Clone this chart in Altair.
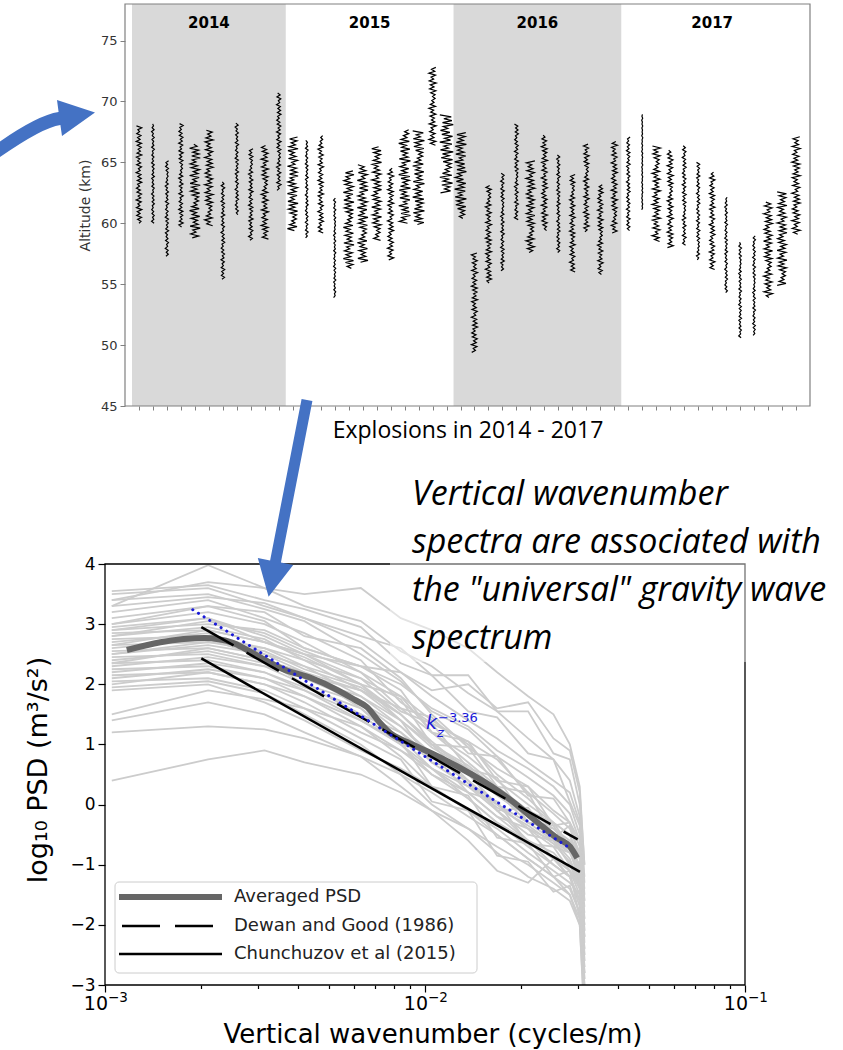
import altair as alt
import numpy as np
import pandas as pd

# ---------------------------------------------------------------------------
# Upper panel: wavy altitude profiles, one per explosion (2014-2017)
# ---------------------------------------------------------------------------
year_names = ["2014", "2015", "2016", "2017"]
year_first = [-0.5, 10.5, 22.5, 34.5]
year_last = [10.5, 22.5, 34.5, 47.5]
year_shaded = [True, False, True, False]

# lowest / highest altitude (km) of every profile
prof_bottom = [
    60.0, 60.0, 57.3, 59.7, 58.8, 59.8, 55.4, 60.7, 58.6, 58.7, 62.7,        # 2014
    59.4, 58.8, 59.2, 53.9, 56.3, 56.8, 58.6, 57.0, 60.0, 59.9, 66.4, 62.5,  # 2015
    60.4, 49.4, 55.1, 56.1, 60.3, 57.6, 59.4, 57.6, 56.0, 59.3, 55.8, 59.2,  # 2016
    59.4, 61.1, 58.5, 58.0, 58.2, 57.0, 56.2, 54.3, 50.6, 50.8, 53.9, 54.9, 59.1,  # 2017
]
prof_top = [
    68.1, 68.2, 65.2, 68.3, 66.6, 67.7, 63.4, 68.3, 66.2, 66.5, 70.8,
    67.1, 66.8, 67.3, 62.1, 64.3, 64.8, 66.4, 64.6, 67.8, 67.7, 72.9, 68.9,
    67.5, 57.6, 63.1, 64.1, 68.2, 65.2, 67.3, 65.7, 64.0, 66.5, 63.3, 66.8,
    67.2, 69.0, 66.4, 66.0, 66.4, 65.1, 64.2, 62.2, 58.5, 59.0, 61.8, 62.7, 67.2,
]
# horizontal swing of each profile (in explosion-index units)
prof_amp = [
    0.20, 0.10, 0.12, 0.16, 0.38, 0.30, 0.13, 0.12, 0.16, 0.26, 0.16,
    0.38, 0.10, 0.20, 0.08, 0.38, 0.38, 0.35, 0.22, 0.42, 0.42, 0.26, 0.48,
    0.42, 0.22, 0.22, 0.13, 0.14, 0.32, 0.22, 0.12, 0.20, 0.20, 0.20, 0.22,
    0.13, 0.04, 0.30, 0.22, 0.14, 0.12, 0.20, 0.10, 0.10, 0.10, 0.32, 0.35, 0.30,
]
# perturbation shape shared by the profiles (normalised)
wiggle = [
    0.0, 0.7, -0.5, 0.9, -0.8, 0.4, -0.6, 1.0, -0.9, 0.3, -0.4, 0.8, -1.0, 0.6,
    -0.3, 0.9, -0.7, 0.5, -0.9, 0.2, -0.5, 1.0, -0.6, 0.8, -0.4, 0.7, -1.0, 0.4,
    -0.2, 0.9, -0.8, 0.6, -0.5, 0.3, -0.9, 1.0, -0.7, 0.5, -0.3, 0.8, -0.6, 0.9,
    -1.0, 0.4, -0.5, 0.7, -0.8, 0.2, -0.4, 1.0, -0.9, 0.6, -0.3, 0.5, -0.7, 0.9,
    -0.5, 0.3, -1.0, 0.8, -0.6, 0.4, -0.2, 0.7,
]
alt_step = 0.16  # km between samples of a profile

# ---------------------------------------------------------------------------
# Lower panel: vertical wavenumber spectra
# ---------------------------------------------------------------------------
spec_k = [1.05e-3, 2.1e-3, 3.15e-3, 4.2e-3, 6.3e-3, 8.4e-3, 1.05e-2,
          1.365e-2, 1.68e-2, 2.1e-2, 2.52e-2, 2.835e-2, 3.045e-2, 3.15e-2]
spectra = [
    [3.55, 3.65, 3.40, 3.25, 2.95, 2.35, 2.15, 1.55, 1.45, 0.85, 0.75, 0.05, -0.35, -1.5],
    [3.30, 3.98, 3.60, 3.30, 3.05, 2.55, 2.30, 1.85, 1.55, 1.10, 0.75, 0.40, -0.20, -1.2],
    [3.40, 3.50, 3.25, 3.05, 2.50, 2.05, 1.55, 1.25, 0.80, 0.45, 0.15, -0.15, -0.60, -1.9],
    [3.20, 3.40, 3.10, 2.85, 2.40, 1.70, 1.35, 1.05, 0.75, 0.20, -0.15, -0.40, -0.80, -2.2],
    [3.10, 3.30, 3.20, 2.80, 2.60, 2.10, 1.50, 0.95, 0.60, 0.30, -0.10, -0.30, -0.90, -2.6],
    [3.00, 3.20, 3.00, 2.70, 2.20, 1.80, 1.40, 1.00, 0.50, 0.10, -0.30, -0.50, -1.10, -2.0],
    [2.95, 3.10, 2.80, 2.50, 2.10, 1.75, 1.00, 0.95, 0.30, 0.20, -0.55, -0.35, -0.90, -1.7],
    [2.90, 3.00, 2.90, 2.60, 2.30, 1.90, 1.20, 0.70, 0.30, -0.10, -0.30, -0.70, -1.20, -2.4],
    [2.85, 2.90, 2.70, 2.50, 2.00, 1.50, 1.00, 0.60, 0.20, -0.20, -0.60, -0.80, -1.00, -2.9],
    [2.80, 2.95, 2.75, 2.40, 1.90, 1.40, 0.70, 0.55, -0.10, -0.05, -0.60, -0.75, -1.30, -3.2],
    [2.75, 2.80, 2.60, 2.30, 1.80, 1.30, 0.80, 0.50, 0.00, -0.40, -0.70, -0.80, -1.10, -1.8],
    [2.70, 2.85, 2.50, 2.20, 1.90, 1.50, 1.00, 0.40, -0.10, -0.50, -0.60, -1.00, -1.40, -2.7],
    [2.65, 2.70, 2.60, 2.40, 2.10, 1.55, 1.35, 0.60, 0.45, -0.30, -0.35, -0.75, -0.80, -1.6],
    [2.60, 2.75, 2.45, 2.10, 1.70, 1.20, 0.70, 0.30, -0.10, -0.60, -0.80, -1.10, -1.50, -3.4],
    [2.55, 2.60, 2.40, 2.20, 1.60, 1.10, 0.60, 0.20, -0.20, -0.40, -0.90, -1.20, -1.60, -2.5],
    [2.50, 2.65, 2.50, 2.30, 2.00, 1.80, 1.20, 1.05, 0.40, 0.30, -0.35, -0.30, -0.70, -1.4],
    [2.45, 2.50, 2.30, 2.00, 1.50, 1.00, 0.50, 0.10, -0.30, -0.70, -1.00, -1.20, -1.70, -3.0],
    [2.40, 2.55, 2.35, 2.10, 1.80, 1.40, 0.95, 0.60, 0.20, -0.30, -0.40, -0.70, -1.00, -2.1],
    [2.35, 2.40, 2.20, 1.90, 1.40, 1.05, 0.30, 0.15, -0.55, -0.65, -1.20, -1.10, -1.90, -2.8],
    [2.30, 2.45, 2.30, 2.15, 1.90, 1.60, 1.20, 0.80, 0.40, 0.00, -0.30, -0.50, -0.90, -2.3],
    [2.25, 2.30, 2.10, 1.80, 1.30, 0.80, 0.30, -0.10, -0.50, -0.90, -1.20, -1.50, -2.00, -3.5],
    [2.20, 2.35, 2.20, 1.95, 1.60, 1.00, 0.85, 0.20, 0.05, -0.65, -0.70, -1.10, -1.40, -2.6],
    [2.15, 2.20, 2.00, 1.70, 1.20, 0.90, 0.50, 0.20, -0.20, -0.60, -0.90, -1.10, -1.30, -2.0],
    [2.10, 2.25, 2.10, 1.90, 1.50, 1.20, 0.80, 0.40, 0.00, -0.40, -0.60, -0.80, -1.20, -1.9],
    [2.05, 2.10, 1.90, 1.60, 1.10, 0.75, 0.05, -0.10, -0.85, -0.95, -1.45, -1.35, -1.80, -2.9],
    [2.00, 2.20, 2.00, 1.80, 1.40, 1.00, 0.60, 0.10, -0.30, -0.60, -1.00, -1.20, -1.60, -3.3],
    [1.95, 2.05, 1.85, 1.50, 1.00, 0.50, 0.00, -0.40, -0.80, -1.20, -1.40, -1.60, -2.00, -3.6],
    [1.90, 2.00, 1.70, 1.40, 0.90, 0.60, 0.30, -0.10, -0.40, -0.80, -1.10, -1.30, -1.50, -2.4],
    [1.50, 1.90, 1.75, 1.60, 1.30, 0.90, 0.60, 0.30, 0.00, -0.30, -0.60, -0.90, -1.30, -2.2],
    [1.40, 1.70, 1.50, 1.20, 0.80, 0.30, -0.10, -0.60, -1.10, -1.30, -0.90, -1.20, -1.60, -2.8],
    [1.20, 1.30, 1.25, 1.10, 0.80, 0.50, 0.20, -0.20, -0.50, -0.90, -1.20, -1.40, -1.80, -2.7],
    [0.40, 0.75, 0.90, 0.70, 0.50, 0.20, -0.10, -0.40, -0.70, -1.00, -1.30, -1.50, -1.90, -3.0],
    [3.40, 3.70, 3.60, 3.50, 3.60, 3.10, 2.90, 2.60, 2.20, 1.80, 1.50, 1.00, 0.30, -1.0],
    [3.50, 3.60, 3.30, 3.10, 2.80, 2.60, 2.15, 2.15, 1.55, 1.55, 0.85, 0.75, 0.00, -1.3],
    [3.30, 3.45, 3.35, 3.10, 2.70, 2.20, 1.80, 1.40, 1.10, 0.70, 0.40, 0.20, -0.30, -1.6],
    [3.00, 3.30, 3.05, 2.60, 2.30, 2.00, 1.60, 1.30, 0.90, 0.60, 0.30, 0.00, -0.50, -2.1],
    [2.80, 3.05, 2.85, 2.55, 2.20, 1.60, 1.45, 0.85, 0.80, 0.15, 0.10, -0.30, -0.60, -2.5],
    [2.65, 2.90, 2.70, 2.45, 2.00, 1.40, 1.00, 0.65, 0.25, -0.10, -0.40, -0.60, -1.10, -2.8],
    [2.50, 2.70, 2.55, 2.25, 1.95, 1.50, 1.05, 0.55, 0.15, -0.20, -0.55, -0.75, -1.20, -3.4],
    [2.35, 2.60, 2.40, 2.00, 1.70, 1.30, 0.85, 0.35, -0.05, -0.35, -0.65, -0.95, -1.35, -2.2],
    [2.90, 3.10, 2.70, 2.50, 2.30, 2.20, 1.90, 2.00, 1.60, 1.70, 1.10, 0.90, 0.20, -1.0],
]

avg_k = [1.17e-3, 1.49e-3, 2.05e-3, 2.51e-3, 2.78e-3, 3.65e-3, 4.43e-3, 5.35e-3,
         6.04e-3, 6.59e-3, 7.23e-3, 7.78e-3, 8.79e-3, 1.11e-2, 1.38e-2, 1.68e-2,
         1.94e-2, 2.24e-2, 2.59e-2, 2.84e-2, 2.99e-2]
avg_psd = [2.57, 2.70, 2.77, 2.69, 2.57, 2.24, 2.10, 1.90, 1.74, 1.62, 1.36, 1.19,
           1.04, 0.79, 0.52, 0.24, -0.01, -0.29, -0.56, -0.70, -0.89]

dewan_k, dewan_psd = [2.0e-3, 3.0e-2], [2.95, -0.58]
chun_k, chun_psd = [2.0e-3, 3.05e-2], [2.43, -1.12]
fit_k, fit_psd = [1.88e-3, 2.85e-2], [3.24, -0.73]   # slope -3.36
fit_label = "−3.36"

decade_k = [1e-3, 1e-2, 1e-1]
decade_exp = ["−3", "−2", "−1"]

legend_labels = ["Averaged PSD", "Dewan and Good (1986)", "Chunchuzov et al (2015)"]
note_lines = ["Vertical wavenumber", "spectra are associated with",
              "the \"universal\" gravity wave", "spectrum"]

# ---------------------------------------------------------------------------
# Layout (pixels)
# ---------------------------------------------------------------------------
TOP_W, TOP_H, TOP_X0 = 705, 402, 20
BOT_W, BOT_H = 640, 421
GAP = 158
BOT_LEFT, BOT_TOP = 105, 564      # page position of the lower plot area
ARROW_BLUE = "#4472c4"
FIT_BLUE = "#1a1ad8"
one = pd.DataFrame({"o": [0]})

# arrow outlines in page pixels (drawn as custom symbols at unit scale)
CURVED_ARROW = ("M0,141.5 Q38.3,115.1 58.6,112.1 L57,100 L95,112.5 L62,136 "
                "L60.4,124.9 Q42.7,127.3 0,157 Z")
DOWN_ARROW = ("M301.6,398.95 L312.4,401.05 L280.9,562.55 L293.2,564.95 "
              "L268.6,596.8 L257.8,558.05 L270.1,560.45 Z")

# ---------------------------------------------------------------------------
# Upper panel
# ---------------------------------------------------------------------------
rows = []
for i, (lo, hi, amp) in enumerate(zip(prof_bottom, prof_top, prof_amp)):
    for j, h in enumerate(np.arange(lo, hi + 1e-9, alt_step)):
        rows.append({"explosion": i, "j": j, "alt": h,
                     "x": i + amp * wiggle[(j + 11 * i) % len(wiggle)]})
prof_df = pd.DataFrame(rows)

years_df = pd.DataFrame({"year": year_names, "x0": year_first, "x1": year_last,
                         "shaded": year_shaded})
years_df["mid"] = (years_df["x0"] + years_df["x1"]) / 2

x_top = alt.Scale(domain=[-1, 48], range=[TOP_X0, TOP_W], nice=False, zero=False)
y_top = alt.Scale(domain=[45, 78], nice=False, zero=False)
top_x_axis = alt.Axis(values=list(range(48)), labels=False, tickSize=4,
                      tickColor="#808080", domain=False, grid=False,
                      title="Explosions in 2014 - 2017", titleFont="Open Sans",
                      titleFontSize=23, titleFontWeight="normal",
                      titleColor="black", titlePadding=9)
top_y_axis = alt.Axis(values=[45, 50, 55, 60, 65, 70, 75], offset=-TOP_X0,
                      tickSize=5, tickColor="#808080", domain=False, grid=False,
                      labelFont="DejaVu Sans", labelFontSize=13,
                      labelColor="#333333", labelPadding=3,
                      title="Altitude (km)", titleFont="DejaVu Sans",
                      titleFontSize=14, titleFontWeight="normal",
                      titleColor="#333333", titlePadding=8)

bands = alt.Chart(years_df).transform_filter("datum.shaded").mark_rect(
    color="#d9d9d9").encode(
    x=alt.X("x0:Q", scale=x_top, axis=top_x_axis), x2="x1:Q",
    y=alt.value(0), y2=alt.value(TOP_H))

profiles = alt.Chart(prof_df).mark_line(color="black", strokeWidth=1.2).encode(
    x=alt.X("x:Q", scale=x_top, axis=top_x_axis),
    y=alt.Y("alt:Q", scale=y_top, axis=top_y_axis),
    detail="explosion:N", order="j:Q")

year_text = alt.Chart(years_df).mark_text(
    font="DejaVu Sans", fontSize=15, fontWeight="bold", color="black",
    baseline="middle").encode(
    x=alt.X("mid:Q", scale=x_top, axis=top_x_axis), y=alt.value(18.5), text="year:N")

top_frame = alt.Chart(one).mark_rect(fillOpacity=0, stroke="#808080",
                                     strokeWidth=1.2).encode(
    x=alt.value(TOP_X0), x2=alt.value(TOP_W), y=alt.value(0), y2=alt.value(TOP_H))

# invisible page-sized box that fixes the drawing origin
page = alt.Chart(one).mark_rect(opacity=0).encode(
    x=alt.value(-BOT_LEFT), x2=alt.value(843 - BOT_LEFT),
    y=alt.value(-4), y2=alt.value(1050 - 4))

top = alt.layer(page, bands, profiles, year_text, top_frame).properties(
    width=TOP_W, height=TOP_H)

# ---------------------------------------------------------------------------
# Lower panel
# ---------------------------------------------------------------------------
spec_df = pd.DataFrame([{"line": n, "k": k, "psd": v}
                        for n, row in enumerate(spectra)
                        for k, v in zip(spec_k, row)])
avg_df = pd.DataFrame({"k": avg_k, "psd": avg_psd})
dewan_df = pd.DataFrame({"k": dewan_k, "psd": dewan_psd})
chun_df = pd.DataFrame({"k": chun_k, "psd": chun_psd})
fit_df = pd.DataFrame({"k": fit_k, "psd": fit_psd})
decade_df = pd.DataFrame({"k": decade_k, "exp": decade_exp})

x_bot = alt.Scale(type="log", domain=[1e-3, 1e-1], nice=False)
y_bot = alt.Scale(domain=[-3, 4], nice=False, zero=False)

x_ticks = [m * 10.0 ** e for e in (-3, -2) for m in range(1, 10)] + [0.1]
decades = "datum.value == 0.001 || datum.value == 0.01 || datum.value == 0.1"
x_axis = alt.Axis(
    values=x_ticks, labels=False, title=None,
    tickSize={"condition": {"test": decades, "value": 7}, "value": 3.5},
    tickColor="black", tickWidth=1.2, domain=False, grid=False)
y_axis = alt.Axis(
    values=list(range(-3, 5)), tickSize=7, tickColor="black", tickWidth=1.2,
    domain=False, grid=False, labelFont="DejaVu Sans", labelFontSize=17,
    labelColor="black", labelPadding=3, title=None)

enc = dict(x=alt.X("k:Q", scale=x_bot, axis=x_axis),
           y=alt.Y("psd:Q", scale=y_bot, axis=y_axis))

gray = alt.Chart(spec_df).mark_line(color="#cccccc", strokeWidth=1.8, clip=True).encode(
    detail="line:N", **enc)
avg = alt.Chart(avg_df).mark_line(color="#666666", strokeWidth=6, strokeCap="butt",
                                  interpolate="monotone").encode(**enc)
dewan = alt.Chart(dewan_df).mark_line(color="black", strokeWidth=2.5,
                                      strokeDash=[37, 15]).encode(**enc)
chun = alt.Chart(chun_df).mark_line(color="black", strokeWidth=2.5).encode(**enc)
fit = alt.Chart(fit_df).mark_line(color=FIT_BLUE, strokeWidth=3, strokeCap="round",
                                  strokeDash=[0.1, 6.6]).encode(**enc)

# decade labels 10^n on the wavenumber axis
kx = alt.X("k:Q", scale=x_bot, axis=x_axis)
dec_base = alt.Chart(decade_df).mark_text(
    text="10", font="DejaVu Sans", fontSize=19, color="black", align="right",
    baseline="alphabetic", dx=3).encode(x=kx, y=alt.value(BOT_H + 25))
dec_exp = alt.Chart(decade_df).mark_text(
    font="DejaVu Sans", fontSize=13.5, color="black", align="left",
    baseline="alphabetic", dx=3).encode(x=kx, y=alt.value(BOT_H + 17), text="exp:N")

x_title = alt.Chart(one).mark_text(
    text="Vertical wavenumber (cycles/m)", font="DejaVu Sans", fontSize=26,
    color="black", align="center", baseline="middle").encode(
    x=alt.value(BOT_W / 2 + 8), y=alt.value(1035 - BOT_TOP))
y_title = alt.Chart(one).mark_text(
    text="log₁₀ PSD (m³/s²)", font="DejaVu Sans", fontSize=27, angle=270,
    color="black", align="center", baseline="middle").encode(
    x=alt.value(39 - BOT_LEFT), y=alt.value(770 - BOT_TOP))

fit_k_txt = alt.Chart(one).mark_text(
    text="k", font="DejaVu Sans", fontStyle="italic", fontSize=19, color=FIT_BLUE,
    align="left", baseline="alphabetic").encode(x=alt.value(321), y=alt.value(165))
fit_z_txt = alt.Chart(one).mark_text(
    text="z", font="DejaVu Sans", fontStyle="italic", fontSize=13, color=FIT_BLUE,
    align="left", baseline="alphabetic").encode(x=alt.value(332), y=alt.value(173))
fit_e_txt = alt.Chart(one).mark_text(
    text=fit_label, font="DejaVu Sans", fontSize=13, color=FIT_BLUE,
    align="left", baseline="alphabetic").encode(x=alt.value(333), y=alt.value(158))

bot_frame = alt.Chart(one).mark_rect(fillOpacity=0, stroke="black",
                                     strokeWidth=1.3).encode(
    x=alt.value(0), x2=alt.value(BOT_W), y=alt.value(0), y2=alt.value(BOT_H))

# legend
leg_box = alt.Chart(one).mark_rect(fill="white", fillOpacity=0.8, stroke="#cccccc",
                                   strokeWidth=1, cornerRadius=4).encode(
    x=alt.value(10), x2=alt.value(372), y=alt.value(318), y2=alt.value(409))
leg_avg = alt.Chart(one).mark_rule(color="#666666", strokeWidth=6).encode(
    x=alt.value(14), x2=alt.value(117), y=alt.value(333))
leg_dewan = alt.Chart(one).mark_rule(color="black", strokeWidth=2.5,
                                     strokeDash=[38, 15]).encode(
    x=alt.value(17), x2=alt.value(108), y=alt.value(362))
leg_chun = alt.Chart(one).mark_rule(color="black", strokeWidth=2.5).encode(
    x=alt.value(14), x2=alt.value(117), y=alt.value(390))
leg_text = [
    alt.Chart(one).mark_text(text=lab, font="DejaVu Sans", fontSize=18, color="#222222",
                             align="left", baseline="middle").encode(
        x=alt.value(129), y=alt.value(yy))
    for lab, yy in zip(legend_labels, [333, 362, 390])
]

# translucent box behind the note
note_box = alt.Chart(one).mark_rect(fill="white", opacity=0.45).encode(
    x=alt.value(285), x2=alt.value(738), y=alt.value(-94), y2=alt.value(98))
note = alt.Chart(one).mark_text(
    text=note_lines, lineHeight=48, font="Open Sans", fontStyle="italic", fontSize=34,
    color="black", align="left", baseline="alphabetic").encode(
    x=alt.value(307), y=alt.value(-59))

# arrows: outlines given in page pixels, symbol scale 1 (size 4)
arrows = [
    alt.Chart(one).mark_point(shape=path, size=4, filled=True, opacity=1,
                              color=ARROW_BLUE, strokeWidth=0).encode(
        x=alt.value(-BOT_LEFT), y=alt.value(-BOT_TOP))
    for path in (CURVED_ARROW, DOWN_ARROW)
]

bottom = alt.layer(
    gray, avg, dewan, chun, fit, bot_frame, dec_base, dec_exp, x_title, y_title,
    leg_box, leg_avg, leg_dewan, leg_chun, *leg_text,
    fit_k_txt, fit_z_txt, fit_e_txt, note_box, note, *arrows,
).properties(width=BOT_W, height=BOT_H)

chart = alt.vconcat(top, bottom, spacing=GAP, bounds="flush").properties(
    padding=0).configure_view(stroke=None)

chart.save("out.html", embed_options={"renderer": "svg", "actions": False})
